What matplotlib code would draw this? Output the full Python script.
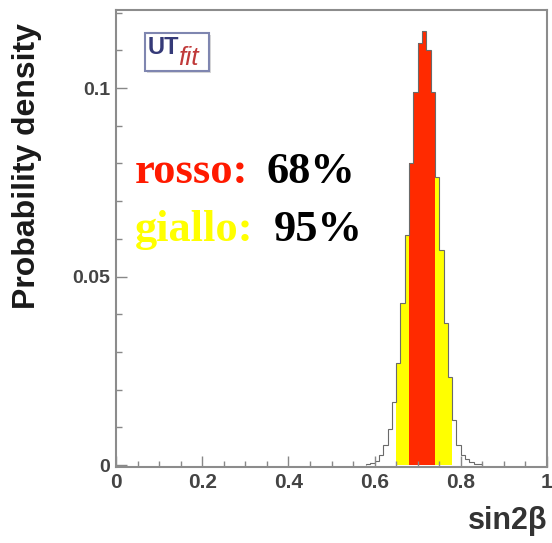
import numpy as np
import matplotlib
matplotlib.use("Agg")
import matplotlib.pyplot as plt
from matplotlib.patches import Rectangle
from matplotlib.ticker import MultipleLocator, FixedLocator

# sin2beta posterior, bin width 0.01
bin_edges = np.round(np.arange(0.58, 0.851, 0.01), 2)
bin_prob = [0.0002, 0.0005, 0.0010, 0.0027, 0.0053, 0.0095, 0.0168,
            0.0270, 0.0430, 0.0610,
            0.0800, 0.0990, 0.1120, 0.1150, 0.1100, 0.0990,
            0.0765, 0.0570, 0.0377, 0.0234,
            0.0120, 0.0053, 0.0027, 0.0015, 0.0008, 0.0004, 0.0002]
# confidence region of each bin: 68% (red), 95% (yellow), outside (white)
bin_region = (["out"] * 7 + ["95"] * 3 + ["68"] * 6 + ["95"] * 4 + ["out"] * 7)

region_colors = {"68": "#ff2a00", "95": "#ffff00", "out": "none"}

x_ticks = [0, 0.2, 0.4, 0.6, 0.8, 1]
x_tick_labels = ["0", "0.2", "0.4", "0.6", "0.8", "1"]
y_ticks = [0, 0.05, 0.1]
y_tick_labels = ["0", "0.05", "0.1"]

W, H = 552, 543
fig = plt.figure(figsize=(W / 100, H / 100), dpi=100)
fig.patch.set_facecolor("white")


def fx(px):
    return px / W


def fy(py):
    return 1 - py / H


ax = fig.add_axes([fx(116), fy(467), (547 - 116) / W, (467 - 10) / H])

lefts = bin_edges[:-1]
colors = [region_colors[r] for r in bin_region]
ax.bar(lefts, bin_prob, width=0.01, align="edge", color=colors,
       edgecolor="none", linewidth=0)
ax.stairs(bin_prob, bin_edges, color="#6a6a6a", linewidth=0.8)

ax.set_xlim(0, 1)
ax.set_ylim(-0.0005, 0.1207)

ax.xaxis.set_major_locator(FixedLocator(x_ticks))
ax.set_xticklabels(x_tick_labels)
ax.xaxis.set_minor_locator(MultipleLocator(0.05))
ax.yaxis.set_major_locator(FixedLocator(y_ticks))
ax.set_yticklabels(y_tick_labels)
ax.yaxis.set_minor_locator(MultipleLocator(0.01))

for lab in ax.get_xticklabels():
    lab.set_fontfamily("Liberation Sans")
    lab.set_fontsize(15)
    lab.set_fontweight("bold")
    lab.set_color("#444444")
for lab in ax.get_yticklabels():
    lab.set_fontfamily("Liberation Sans")
    lab.set_fontsize(14)
    lab.set_fontweight("bold")
    lab.set_color("#444444")

ax.tick_params(which="major", direction="in", length=8, width=1.0,
               color="#888888", pad=4)
ax.tick_params(which="minor", direction="in", length=4, width=1.0,
               color="#888888")
ax.tick_params(top=False, right=False)

for side, sp in ax.spines.items():
    sp.set_color("#8c8c8c")
    sp.set_linewidth(1.5)

# axis titles
fig.text(fx(27), fy(166), "Probability density", rotation=90,
         ha="center", va="center", fontsize=23, fontweight="bold",
         family="Liberation Sans", color="#1a1a1a")
fig.text(fx(547), fy(521), "sin2\u03b2", ha="right", va="center",
         fontsize=22, fontweight="bold", family="Liberation Sans",
         color="#333333")

# UTfit logo
fig.patches.append(Rectangle((fx(147), fy(73)), 64 / W, 38 / H,
                             transform=fig.transFigure, facecolor="#d8d8d8",
                             edgecolor="none", zorder=5))
fig.patches.append(Rectangle((fx(145), fy(71)), 64 / W, 38 / H,
                             transform=fig.transFigure, facecolor="white",
                             edgecolor="#7f86b0", linewidth=1.5, zorder=6))
fig.text(fx(148), fy(54), "UT", ha="left", va="baseline", fontsize=17,
         fontweight="bold", family="Liberation Sans", color="#353a78",
         zorder=7)
fig.text(fx(178), fy(65), "fit", ha="left", va="baseline", fontsize=19,
         style="italic", family="Liberation Sans", color="#c03a3a", zorder=7)

# confidence level legend
serif = dict(family="Liberation Serif", fontweight="bold", fontsize=32)
fig.text(fx(135), fy(183), "rosso:", ha="left", va="baseline",
         color="#ff1a00", **serif)
fig.text(fx(266), fy(183), "68%", ha="left", va="baseline",
         color="black", **serif)
fig.text(fx(135), fy(241), "giallo:", ha="left", va="baseline",
         color="#ffff00", **serif)
fig.text(fx(274), fy(241), "95%", ha="left", va="baseline",
         color="black", **serif)

fig.savefig("out.png", dpi=100, facecolor="white")
